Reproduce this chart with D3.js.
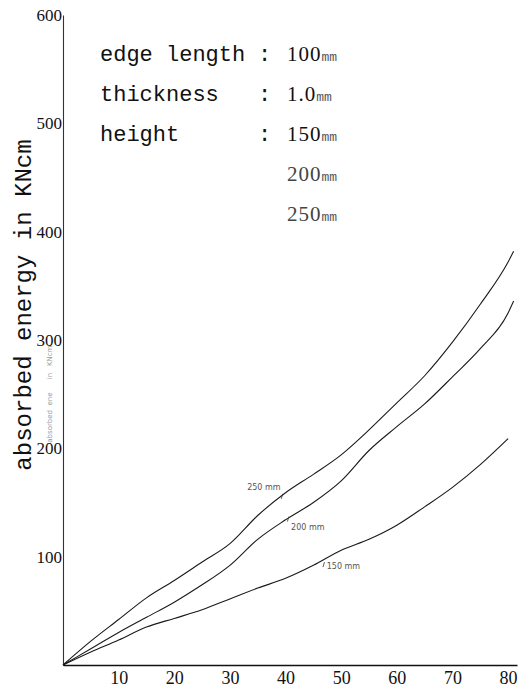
<!DOCTYPE html>
<html>
<head>
<meta charset="utf-8">
<script src="https://cdn.jsdelivr.net/npm/d3@7/dist/d3.min.js"></script>
<style>
  html, body { margin: 0; padding: 0; background: #fff; }
  svg { display: block; }
</style>
</head>
<body>
<svg id="chart" width="522" height="692"></svg>
<script>
// ---- data ----
const xTicks = [10, 20, 30, 40, 50, 60, 70, 80];
const yTicks = [100, 200, 300, 400, 500, 600];

const seriesNames = ["250 mm", "200 mm", "150 mm"];
const series250 = [[0,0],[5,22],[10,42],[15,62],[20,78],[25,95],[30,112],[35,138],[40,159],[45,176],[50,194],[55,217],[60,242],[65,267],[70,298],[75,333],[80,372],[81,382]];
const series200 = [[0,0],[5,15],[10,30],[15,44],[20,58],[25,74],[30,92],[35,116],[40,134],[45,150],[50,170],[55,198],[60,220],[65,241],[70,266],[75,292],[80,325],[81,336]];
const series150 = [[0,0],[5,12],[10,23],[15,35],[20,43],[25,51],[30,61],[35,71],[40,80],[45,92],[50,106],[55,116],[60,129],[65,146],[70,164],[75,185],[80,209]];
// where each curve label sits (data units) and where its pointer meets the curve
const labelAnchors = [[33.1, 162], [41, 125], [47.4, 89]];
const labelHooks = [[39.5, 158], [40.6, 137], [47, 95]];

const infoKeys = ["edge length", "thickness", "height", "", ""];
const infoNums = ["100", "1.0", "150", "200", "250"];
const infoUnit = "mm";
const yTitle = "absorbed energy in KNcm";

// ---- layout ----
const svg = d3.select("#chart");
const x = d3.scaleLinear().domain([0, 81.6]).range([63, 517]);
const y = d3.scaleLinear().domain([0, 600]).range([665, 15]);

// axes
const xAxis = d3.axisBottom(x).tickValues(xTicks).tickSize(0).tickSizeOuter(0).tickPadding(6);
const gx = svg.append("g").attr("transform", `translate(0,${y(0)})`).call(xAxis);
gx.select(".domain").attr("stroke", "#111").attr("stroke-width", 1.6);
gx.selectAll("text").attr("font-family", "Liberation Serif, Times New Roman, serif")
  .attr("font-size", 18).attr("fill", "#111");

const yAxis = d3.axisLeft(y).tickValues(yTicks).tickSize(0).tickSizeOuter(0).tickPadding(1);
const gy = svg.append("g").attr("transform", `translate(${x(0)},0)`).call(yAxis);
gy.select(".domain").attr("stroke", "#333").attr("stroke-width", 1.1);
gy.selectAll("text").attr("font-family", "Liberation Serif, Times New Roman, serif")
  .attr("font-size", 17).attr("fill", "#111");

// y title
svg.append("text")
  .attr("transform", `translate(31,${(y(0)+y(600))/2 - 35}) rotate(-90)`)
  .attr("text-anchor", "middle")
  .attr("font-family", "Liberation Mono, DejaVu Sans Mono, monospace")
  .attr("font-size", 24)
  .attr("fill", "#111")
  .text(yTitle);

// faint ghost title
svg.append("text")
  .attr("transform", `translate(52,${y(250)}) rotate(-90)`)
  .attr("text-anchor", "middle")
  .attr("font-family", "DejaVu Sans, sans-serif")
  .attr("font-size", 7)
  .attr("fill", "#999")
  .attr("xml:space", "preserve")
  .text("absorbed  ene      in   KNcm");

// curves
const line = d3.line().x(d => x(d[0])).y(d => y(d[1])).curve(d3.curveMonotoneX);
const allSeries = [series250, series200, series150];
svg.append("g").selectAll("path").data(allSeries).join("path")
  .attr("d", line)
  .attr("fill", "none")
  .attr("stroke", "#1a1a1a")
  .attr("stroke-width", 1.1);

// curve labels
const lg = svg.append("g");
seriesNames.forEach((name, i) => {
  lg.append("text")
    .attr("x", x(labelAnchors[i][0]))
    .attr("y", y(labelAnchors[i][1]))
    .attr("font-family", "DejaVu Sans, sans-serif")
    .attr("font-size", 8)
    .attr("fill", "#555")
    .attr("xml:space", "preserve")
    .text(name);
  lg.append("line")
    .attr("x1", x(labelHooks[i][0])).attr("y1", y(labelHooks[i][1]))
    .attr("x2", x(labelHooks[i][0]) - 1.5).attr("y2", y(labelHooks[i][1]) + 5)
    .attr("stroke", "#333").attr("stroke-width", 0.8);
});

// info block
const info = svg.append("g")
  .attr("font-family", "Liberation Mono, DejaVu Sans Mono, monospace")
  .attr("font-size", 22)
  .attr("fill", "#111");
infoNums.forEach((num, i) => {
  const by = 61 + i * 40;
  if (infoKeys[i]) {
    info.append("text").attr("x", 100).attr("y", by).text(infoKeys[i]);
  }
  if (i < 3) {
    info.append("text").attr("x", 258).attr("y", by).text(":");
  }
  const t = info.append("text").attr("x", 287).attr("y", by)
    .attr("fill", i >= 3 ? "#444" : "#111");
  t.append("tspan").attr("font-family", "Liberation Serif, serif").attr("font-size", 21)
    .attr("letter-spacing", 1).text(num);
  t.append("tspan").attr("font-size", 13).attr("fill", "#555").text(infoUnit);
});
</script>
</body>
</html>
